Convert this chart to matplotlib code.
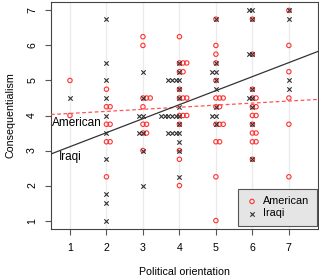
import numpy as np
import matplotlib
matplotlib.use("Agg")
import matplotlib.pyplot as plt
from collections import defaultdict

# ---- data: political orientation (x) and consequentialism (y) ----
am_x = ([1] * 2 + [2] * 8 + [3] * 11 + [4] * 17 + [5] * 17 + [6] * 15 + [7] * 6)
am_y = [5, 4,
        4.75, 4.25, 4.25, 3.75, 3.75, 3.25, 3.25, 2.25,
        6.25, 6, 4.5, 4.5, 4.5, 4.25, 3.75, 3.75, 3.5, 3.5, 3.0,
        6.25, 5.5, 5.5, 5.5, 5.25, 5.25, 4.75, 4.5, 4.5, 4.5, 4.0, 4.0, 4.0, 3.75, 3.0, 2.75, 2.0,
        6.75, 6, 5.75, 5.5, 5.0, 4.5, 4.5, 4.5, 4.25, 4.25, 3.75, 3.75, 3.75, 3.25, 3.25, 2.25, 1.0,
        6.75, 5.75, 4.75, 4.5, 4.5, 4.25, 4.25, 4.0, 4.0, 3.75, 3.5, 3.5, 3.25, 3.25, 2.75,
        7, 6, 5.25, 4.5, 3.75, 2.25]

iq_x = ([1] * 1 + [2] * 10 + [3] * 8 + [4] * 23 + [5] * 10 + [6] * 11 + [7] * 4)
iq_y = [4.5,
        6.75, 5.5, 5.0, 4.5, 4.0, 3.5, 2.75, 1.75, 1.5, 1.0,
        5.25, 4.5, 4.0, 4.0, 3.5, 3.5, 3.0, 2.0,
        5.5, 5.25, 5.0, 5.0, 5.0, 5.0, 4.75, 4.5, 4.25, 4.0, 4.0, 4.0, 4.0, 4.0, 4.0,
        3.75, 3.5, 3.5, 3.5, 3.5, 3.25, 3.0, 2.25,
        6.75, 5.5, 5.25, 5.25, 5.0, 4.75, 4.25, 4.0, 4.0, 3.75,
        7.0, 7.0, 6.75, 5.75, 5.75, 4.75, 4.5, 4.5, 4.25, 3.75, 2.75,
        7.0, 6.75, 5.0, 4.75]

# fitted regression lines (intercept, slope)
am_fit = [4.0, 0.059]
iq_fit = [2.71, 0.40]

x_ticks = [1, 2, 3, 4, 5, 6, 7]
y_ticks = [1, 2, 3, 4, 5, 6, 7]


def stack(xs, ys, step):
    seen = defaultdict(int)
    out = []
    for x, y in zip(xs, ys):
        k = seen[(x, y)]
        seen[(x, y)] += 1
        out.append(x + step * k)
    return np.array(out, dtype=float), np.array(ys, dtype=float)


plt.rcParams['font.family'] = ['Liberation Sans', 'DejaVu Sans']
fig = plt.figure(figsize=(3.19, 2.80), dpi=100)
ax = fig.add_axes([51 / 319, 1 - 229 / 280, (317.7 - 51) / 319, (229 - 2) / 280])

ax.set_xlim(0.48, 7.79)
ax.set_ylim(0.76, 7.24)

for xv in x_ticks:
    ax.axvline(xv, color='#ebebeb', lw=1.0, zorder=0)

axs, ays = stack(am_x, am_y, 0.1)
ixs, iys = stack(iq_x, iq_y, -0.1)

red = '#ff3333'
ax.scatter(axs, ays, s=10, facecolors='none', edgecolors=red, linewidths=0.8,
           label='American', zorder=2)
ax.scatter(ixs, iys, s=10, marker='x', color='#333333', linewidths=0.8,
           label='Iraqi', zorder=3)

xx = np.array([0.48, 7.79])
ax.plot(xx, am_fit[0] + am_fit[1] * xx, ls=(0, (3, 2)), color='#ff5555', lw=0.9, zorder=4)
ax.plot(xx, iq_fit[0] + iq_fit[1] * xx, ls='-', color='#333333', lw=0.9, zorder=4)

ax.text(0.5, 3.79, 'American', fontsize=8.5, va='center', ha='left', zorder=5)
ax.text(0.70, 2.81, 'Iraqi', fontsize=8.5, va='center', ha='left', zorder=5)

ax.set_xticks(x_ticks)
ax.set_yticks(y_ticks)
ax.set_yticklabels([str(v) for v in y_ticks], rotation=90, va='center')
ax.tick_params(axis='both', labelsize=7.7, length=4, width=0.8, color='#555555', pad=6)
for s in ax.spines.values():
    s.set_color('#444444')
    s.set_linewidth(0.8)

ax.set_xlabel('Political orientation', fontsize=7.7, labelpad=10)
ax.set_ylabel('Consequentialism', fontsize=7.7, labelpad=8)

leg = ax.legend(loc='lower right', bbox_to_anchor=(0.996, 0.013), borderaxespad=0,
                fontsize=7.8, frameon=True, fancybox=False, handletextpad=0.4,
                handlelength=1.2, borderpad=0.7, labelspacing=0.2, scatterpoints=1)
leg.get_frame().set_facecolor('#e5e5e5')
leg.get_frame().set_edgecolor('#555555')
leg.get_frame().set_alpha(1)
leg.get_frame().set_linewidth(0.8)

fig.savefig('out.png', dpi=100)
